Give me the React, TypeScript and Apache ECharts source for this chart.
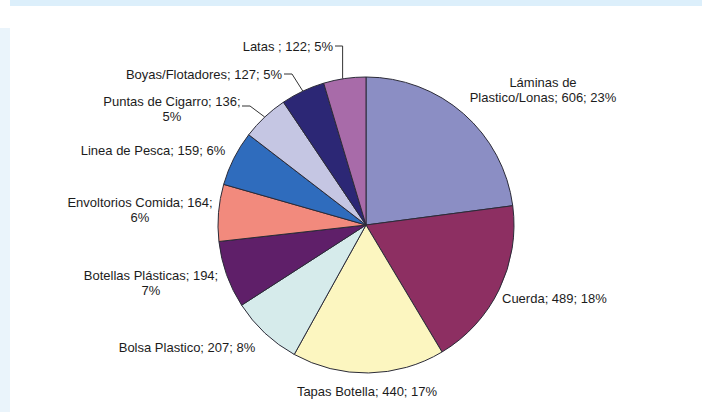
import React, { useEffect, useRef } from "react";
import * as echarts from "echarts";

const categories = [
  "Láminas de Plastico/Lonas",
  "Cuerda",
  "Tapas Botella",
  "Bolsa Plastico",
  "Botellas Plásticas",
  "Envoltorios Comida",
  "Linea de Pesca",
  "Puntas de Cigarro",
  "Boyas/Flotadores",
  "Latas ",
];
const values = [606, 489, 440, 207, 194, 164, 159, 136, 127, 122];
const percents = [23, 18, 17, 8, 7, 6, 6, 5, 5, 5];
// label text templates (line breaks as in the reference)
const labelTexts = [
  "Láminas de\nPlastico/Lonas; 606; 23%",
  "Cuerda; 489; 18%",
  "Tapas Botella; 440; 17%",
  "Bolsa Plastico; 207; 8%",
  "Botellas Plásticas; 194;\n7%",
  "Envoltorios Comida; 164;\n6%",
  "Linea de Pesca; 159; 6%",
  "Puntas de Cigarro; 136;\n5%",
  "Boyas/Flotadores; 127; 5%",
  "Latas ; 122; 5%",
];
const colors = [
  "#8b8ec4",
  "#8d2f62",
  "#fcf6c0",
  "#d6ebeb",
  "#5f1f69",
  "#f28a7d",
  "#2f6cbd",
  "#c5c6e3",
  "#2c2775",
  "#a86ba9",
];

// label anchor positions (px) and alignment
const labelPos: [number, number, string][] = [
  [543, 90, "center"],
  [502, 298, "left"],
  [367, 391, "center"],
  [187, 347, "center"],
  [151, 283, "center"],
  [140, 210, "center"],
  [153, 150, "center"],
  [172, 109, "center"],
  [282, 74, "right"],
  [333, 46, "right"],
];
const hasLine = [false, false, false, false, false, false, false, true, true, true];

const CX = 366;
const CY = 225;
const R = 148;

export default function App() {
  const ref = useRef<HTMLDivElement>(null);
  useEffect(() => {
    if (!ref.current) return;
    const chart = echarts.init(ref.current, null, { renderer: "svg" });
    const total = values.reduce((a, b) => a + b, 0);
    const edgePoint = (i: number) => {
      let before = 0;
      for (let k = 0; k < i; k++) before += values[k];
      const mid = ((before + values[i] / 2) / total) * Math.PI * 2;
      return [CX + R * Math.sin(mid), CY - R * Math.cos(mid)];
    };
    const data = categories.map((name, i) => ({
      name,
      value: values[i],
      itemStyle: { color: colors[i] },
      labelLine: { show: hasLine[i] },
    }));
    chart.setOption({
      animation: false,
      backgroundColor: "#ffffff",
      graphic: [
        {
          type: "rect",
          shape: { x: 10, y: 0, width: 692, height: 6 },
          style: { fill: "#dceffb" },
          silent: true,
        },
        {
          type: "rect",
          shape: { x: 0, y: 28, width: 10, height: 384 },
          style: { fill: "#eaf4fb" },
          silent: true,
        },
      ],
      series: [
        {
          type: "pie",
          center: [CX, CY],
          radius: [0, R],
          startAngle: 90,
          clockwise: true,
          avoidLabelOverlap: false,
          data,
          itemStyle: { borderColor: "#2b2b38", borderWidth: 1 },
          label: {
            show: true,
            position: "outside",
            fontFamily: "Liberation Sans, Arial, sans-serif",
            fontSize: 13,
            lineHeight: 15,
            color: "#1c1c1c",
            formatter: (p: any) => labelTexts[p.dataIndex],
          },
          labelLine: {
            show: true,
            lineStyle: { color: "#333333", width: 1 },
          },
          labelLayout: (p: any) => {
            const i = p.dataIndex;
            const [x, y, align] = labelPos[i];
            const out: any = { x, y, align, verticalAlign: "middle" };
            if (hasLine[i]) {
              const edge =
                p.labelLinePoints && p.labelLinePoints[0]
                  ? p.labelLinePoints[0]
                  : edgePoint(i);
              const right = align === "right" ? x : 240;
              const ly = align === "right" ? y : 106;
              if (i === 9) {
                out.labelLinePoints = [
                  [right + 2, ly],
                  [edge[0] - 2, ly],
                  [edge[0] - 2, edge[1]],
                ];
              } else {
                out.labelLinePoints = [
                  [right + 2, ly],
                  [right + 10, ly],
                  edge,
                ];
              }
            }
            return out;
          },
        },
      ],
    });
    return () => chart.dispose();
  }, []);
  return (
    <div
      ref={ref}
      style={{ position: "fixed", left: 0, top: 0, width: 702, height: 412 }}
    />
  );
}
